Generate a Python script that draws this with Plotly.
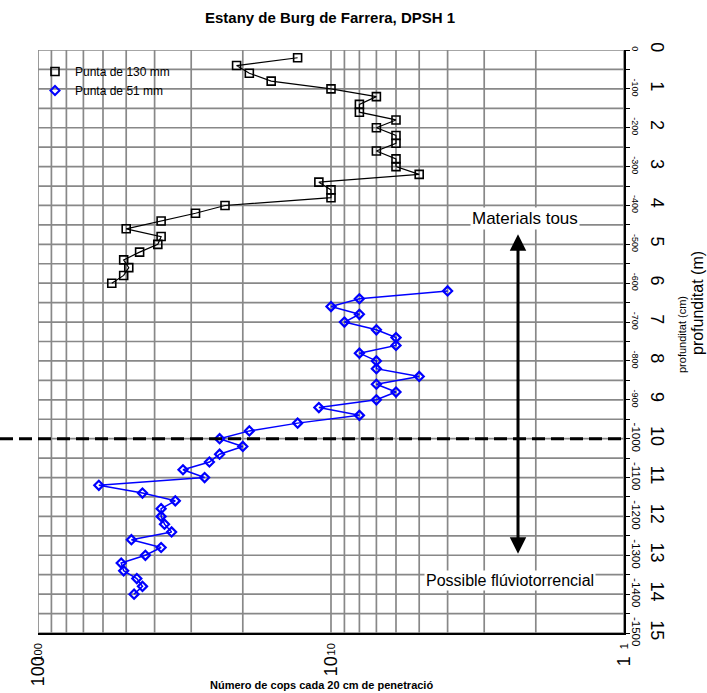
import math
import plotly.graph_objects as go

# ---------------- data ----------------
depth_130 = [0.2, 0.4, 0.6, 0.8, 1.0, 1.2, 1.4, 1.6, 1.8, 2.0,
             2.2, 2.4, 2.6, 2.8, 3.0, 3.2, 3.4, 3.6, 3.8, 4.0,
             4.2, 4.4, 4.6, 4.8, 5.0, 5.2, 5.4, 5.6, 5.8, 6.0]
cops_130 = [13, 21, 19, 16, 10, 7, 8, 8, 6, 7,
            6, 6, 7, 6, 6, 5, 11, 10, 10, 23,
            29, 38, 50, 38, 39, 45, 51, 49, 51, 56]

depth_51 = [6.2, 6.4, 6.6, 6.8, 7.0, 7.2, 7.4, 7.6, 7.8, 8.0,
            8.2, 8.4, 8.6, 8.8, 9.0, 9.2, 9.4, 9.6, 9.8, 10.0,
            10.2, 10.4, 10.6, 10.8, 11.0, 11.2, 11.4, 11.6, 11.8, 12.0,
            12.2, 12.4, 12.6, 12.8, 13.0, 13.2, 13.4, 13.6, 13.8, 14.0]
cops_51 = [4, 8, 10, 8, 9, 7, 6, 6, 8, 7,
           7, 5, 7, 6, 7, 11, 8, 13, 19, 24,
           20, 24, 26, 32, 27, 62, 44, 34, 38, 38,
           37, 35, 48, 38, 43, 52, 51, 46, 44, 47]

x_grid = [1, 2, 3, 4, 5, 6, 7, 8, 9, 10, 20, 30, 40, 50, 60, 70, 80, 90, 100]
x_label_vals = [1, 10, 100]
x_labels = ["1", "10", "100"]

m_ticks = [i * 0.5 for i in range(31)]
m_labels = [str(int(v)) if v == int(v) else "" for v in m_ticks]
cm_ticks = list(range(16))
cm_labels = ["0", "-100", "-200", "-300", "-400", "-500", "-600", "-700", "-800",
             "-900", "-1000", "-1100", "-1200", "-1300", "-1400", "-1500"]

limit_depth = 10
arrow_x = 2.3
arrow_top, arrow_bottom = 4.74, 13.0

# ---------------- geometry helpers ----------------
W, H = 707, 693
L, R, T, B = 38, 83, 50, 60
PW, PH = W - L - R, H - T - B


def px(x):
    return (x - L) / PW


def py(y):
    return (H - B - y) / PH


FONT = "Arial, Liberation Sans, sans-serif"
GRID = "#888888"

# larger rendering for the deeper cm labels, as in the original
cm_text = [t if i < 10 else '<span style="font-size:11.5px">%s</span>' % t
           for i, t in enumerate(cm_labels)]

fig = go.Figure()

fig.add_trace(go.Scatter(
    x=cops_130, y=depth_130, mode="lines+markers", showlegend=False,
    line=dict(color="black", width=1.2),
    marker=dict(symbol="square-open", size=8, color="black", line=dict(width=1.6)),
))
fig.add_trace(go.Scatter(
    x=cops_51, y=depth_51, mode="lines+markers", showlegend=False,
    line=dict(color="#0000ff", width=1.5),
    marker=dict(symbol="diamond-open", size=7, color="#0000ff", line=dict(width=2.2)),
))
# legend entries (marker only)
fig.add_trace(go.Scatter(
    x=[None], y=[None], mode="markers", name="Punta de 130 mm",
    marker=dict(symbol="square-open", size=8, color="black", line=dict(width=1.6)),
))
fig.add_trace(go.Scatter(
    x=[None], y=[None], mode="markers", name="Punta de 51 mm",
    marker=dict(symbol="diamond-open", size=7, color="#0000ff", line=dict(width=2)),
))
# carrier for secondary axes
fig.add_trace(go.Scatter(
    x=[10], y=[5], xaxis="x2", yaxis="y2", mode="markers",
    marker=dict(opacity=0), showlegend=False, hoverinfo="skip",
))

fig.update_layout(
    template="none",
    width=W, height=H,
    margin=dict(l=L, r=R, t=T, b=B, autoexpand=False),
    paper_bgcolor="white", plot_bgcolor="white",
    font=dict(family=FONT, color="black"),
    showlegend=True,
    legend=dict(x=px(35), y=py(57), xanchor="left", yanchor="top",
                bgcolor="rgba(0,0,0,0)", borderwidth=0,
                font=dict(size=12, family=FONT),
                itemwidth=30, tracegroupgap=0),
    xaxis=dict(
        type="log", range=[2, 0], autorange=False, automargin=False,
        tickvals=x_label_vals, ticktext=x_labels, tickangle=-90,
        tickfont=dict(size=18, family=FONT), ticklabelstandoff=14,
        ticks="", showgrid=False, zeroline=False,
        showline=True, linecolor="black", linewidth=2,
    ),
    xaxis2=dict(
        type="log", range=[2, 0], autorange=False, automargin=False,
        overlaying="x", anchor="y", side="bottom",
        tickvals=x_label_vals, ticktext=x_labels, tickangle=-90,
        tickfont=dict(size=11, family=FONT), ticklabelstandoff=7,
        ticks="", showgrid=False, zeroline=False, showline=False,
    ),
    yaxis=dict(
        range=[15, 0], autorange=False, side="right", automargin=False,
        tickvals=m_ticks, ticktext=m_labels, tickangle=90,
        tickfont=dict(size=18, family=FONT), ticklabelstandoff=14,
        ticks="outside", ticklen=4, tickcolor="black", tickwidth=1,
        showgrid=False, zeroline=False,
        showline=True, linecolor="black", linewidth=2,
    ),
    yaxis2=dict(
        range=[15, 0], autorange=False, overlaying="y", side="right", anchor="x",
        automargin=False,
        tickvals=cm_ticks, ticktext=cm_text, tickangle=90,
        tickfont=dict(size=9, family=FONT), ticklabelstandoff=5,
        ticks="", showgrid=False, zeroline=False, showline=False,
    ),
)

# grid lines (drawn through the library's scales)
shapes = []
for v in x_grid:
    shapes.append(dict(type="line", xref="x", yref="paper", x0=v, x1=v, y0=0, y1=1,
                       line=dict(color=GRID, width=1.7), layer="below"))
for v in m_ticks:
    shapes.append(dict(type="line", xref="paper", yref="y", x0=0, x1=1, y0=v, y1=v,
                       line=dict(color=GRID, width=1.7), layer="below"))
# dashed limit line
shapes.append(dict(type="line", xref="paper", yref="y", x0=px(0), x1=1,
                   y0=limit_depth, y1=limit_depth,
                   line=dict(color="black", width=3, dash="13px,6px")))
fig.update_layout(shapes=shapes)

C = dict(xref="paper", yref="paper", showarrow=False, xanchor="center", yanchor="middle")
ann = [
    dict(text="<b>Estany de Burg de Farrera, DPSH 1</b>", x=px(330), y=py(18),
         font=dict(size=15), **C),
    dict(text="<b>Número de cops cada 20 cm de penetració</b>", x=px(321), y=py(685),
         font=dict(size=11), **C),
    dict(text="profunditat (m)", x=px(697), y=py(303), textangle=-90,
         font=dict(size=16), **C),
    dict(text="profunditat (cm)", x=px(682), y=py(335), textangle=-90,
         font=dict(size=11), **C),
    # double arrow
    dict(x=math.log10(arrow_x), y=arrow_top, ax=math.log10(arrow_x), ay=arrow_bottom,
         xref="x", yref="y", axref="x", ayref="y", text="", showarrow=True,
         arrowhead=2, startarrowhead=2, arrowside="end+start", arrowsize=1.1,
         startarrowsize=1.1, arrowwidth=3, arrowcolor="black"),
    dict(text="Materials tous", x=px(525), y=py(219),
         bgcolor="white", font=dict(size=17), borderpad=1, **C),
    dict(text="Possible flúviotorrencial", x=px(510), y=py(580),
         bgcolor="white", font=dict(size=16), borderpad=1, **C),
]
fig.update_layout(annotations=ann)

fig.write_html("out.html")
